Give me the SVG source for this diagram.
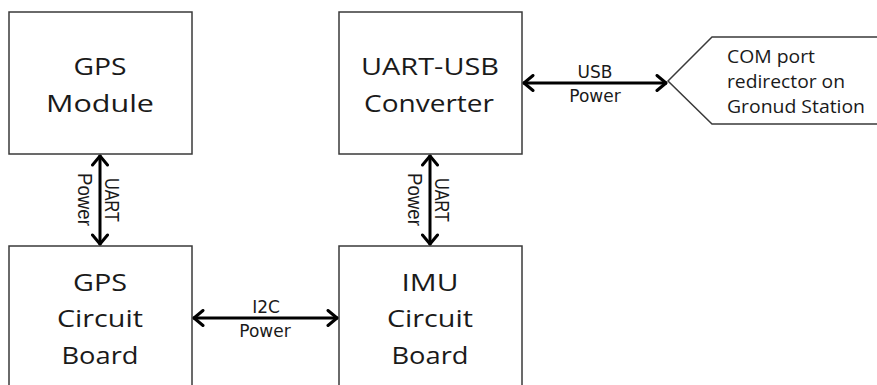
<svg xmlns="http://www.w3.org/2000/svg" width="877" height="385" viewBox="0 0 877 385">
<style>
.box{fill:#fff;stroke:#3a3a3a;stroke-width:1.5}
.big{font-family:"Open Sans","Liberation Sans",sans-serif;font-size:24px;fill:#1a1a1a;text-anchor:middle}
.sm{font-family:"Open Sans","Liberation Sans",sans-serif;font-size:18px;fill:#1a1a1a}
.lbl{font-family:"DejaVu Sans","Liberation Sans",sans-serif;font-size:17px;fill:#1a1a1a;text-anchor:middle}
.vl{font-family:"Liberation Sans",Arial,sans-serif;font-size:20px;fill:#1a1a1a}
.con{stroke:#000;stroke-width:3;fill:none;marker-start:url(#ah);marker-end:url(#ah)}
</style>
<defs>
<marker id="ah" markerUnits="userSpaceOnUse" viewBox="0 -9 14 18" refX="12" refY="0" markerWidth="14" markerHeight="18" orient="auto-start-reverse">
<path d="M2,-7.5 L11,0 L2,7.5" fill="none" stroke="#000" stroke-width="3" stroke-linejoin="round" stroke-linecap="round"/>
</marker>
</defs>
<rect width="877" height="385" fill="#fff"/>
<g id="gps-module">
<rect class="box" x="9" y="12" width="183" height="142"/>
<text class="big" x="100" y="75" textLength="53" lengthAdjust="spacingAndGlyphs">GPS</text>
<text class="big" x="100" y="112" textLength="108" lengthAdjust="spacingAndGlyphs">Module</text>
</g>
<g id="uart-usb">
<rect class="box" x="339" y="12" width="183" height="142"/>
<text class="big" x="430" y="75" textLength="138" lengthAdjust="spacingAndGlyphs">UART-USB</text>
<text class="big" x="429" y="112" textLength="130" lengthAdjust="spacingAndGlyphs">Converter</text>
</g>
<g id="gps-board">
<rect class="box" x="9" y="246" width="183" height="150"/>
<text class="big" x="100" y="291" textLength="54" lengthAdjust="spacingAndGlyphs">GPS</text>
<text class="big" x="100" y="327" textLength="86" lengthAdjust="spacingAndGlyphs">Circuit</text>
<text class="big" x="100" y="364" textLength="77" lengthAdjust="spacingAndGlyphs">Board</text>
</g>
<g id="imu-board">
<rect class="box" x="339" y="246" width="183" height="150"/>
<text class="big" x="430" y="291" textLength="57" lengthAdjust="spacingAndGlyphs">IMU</text>
<text class="big" x="430" y="327" textLength="86" lengthAdjust="spacingAndGlyphs">Circuit</text>
<text class="big" x="430" y="364" textLength="77" lengthAdjust="spacingAndGlyphs">Board</text>
</g>
<g id="com-port">
<polygon class="box" points="668,81 712,37 880,37 880,124 712,124"/>
<text class="sm" x="727" y="63" textLength="88" lengthAdjust="spacingAndGlyphs">COM port</text>
<text class="sm" x="727" y="88" textLength="118" lengthAdjust="spacingAndGlyphs">redirector on</text>
<text class="sm" x="727" y="113" textLength="138" lengthAdjust="spacingAndGlyphs">Gronud Station</text>
</g>
<g id="connectors">
<line class="con" x1="100" y1="155" x2="100" y2="245"/>
<line class="con" x1="430" y1="155" x2="430" y2="245"/>
<line class="con" x1="523" y1="83" x2="667" y2="83"/>
<line class="con" x1="193" y1="318" x2="338" y2="318"/>
<text class="lbl" x="595" y="78">USB</text>
<text class="lbl" x="595" y="102">Power</text>
<text class="lbl" x="266" y="313">I2C</text>
<text class="lbl" x="265" y="337">Power</text>
<text class="vl" transform="translate(105,178) rotate(90)" textLength="44" lengthAdjust="spacingAndGlyphs">UART</text>
<text class="vl" transform="translate(78,173) rotate(90)" textLength="53" lengthAdjust="spacingAndGlyphs">Power</text>
<text class="vl" transform="translate(435,178) rotate(90)" textLength="44" lengthAdjust="spacingAndGlyphs">UART</text>
<text class="vl" transform="translate(408,173) rotate(90)" textLength="53" lengthAdjust="spacingAndGlyphs">Power</text>
</g>
</svg>
